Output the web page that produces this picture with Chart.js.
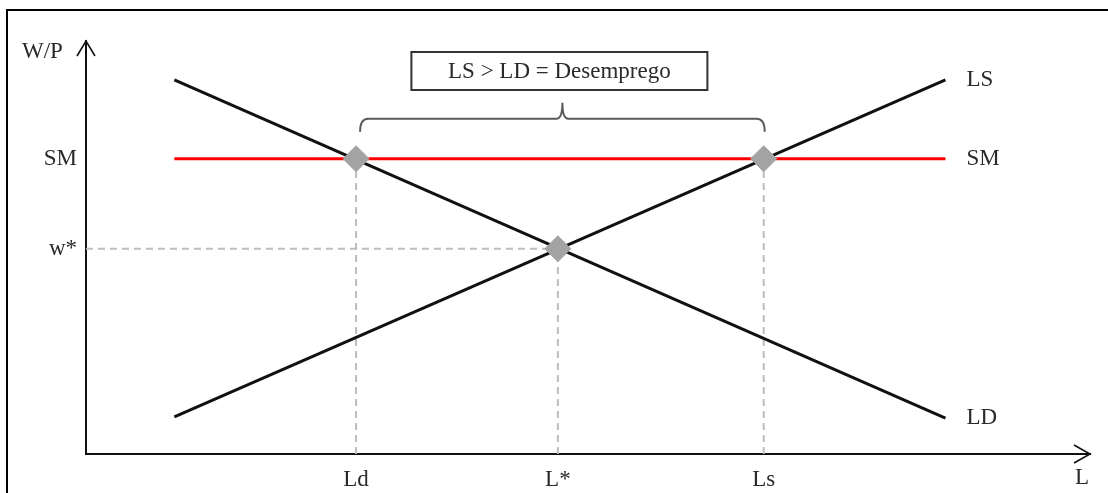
<!DOCTYPE html>
<html>
<head>
<meta charset="utf-8">
<script src="https://cdn.jsdelivr.net/npm/chart.js@4"></script>
<style>
  body { margin: 0; background: #fff; }
  canvas { display: block; }
</style>
</head>
<body>
<canvas id="mercado" width="1108" height="493"></canvas>
<script>
// labour market with a minimum wage (values in axis units, 0..10)
const xTickLabels = ['Ld', 'L*', 'Ls'];
const xTickValues = [2.69, 4.70, 6.75];
const yTickLabels = ['SM', 'w*'];
const yTickValues = [7.15, 4.97];

const ldX = [0.88, 8.56];
const ldY = [9.06, 0.87];
const lsX = [0.88, 8.56];
const lsY = [0.90, 9.06];
const smX = [0.88, 8.56];
const smY = [7.15, 7.15];

const seriesNames = ['LD', 'LS', 'SM'];
const boxText = 'LS > LD = Desemprego';

const serif = '"Liberation Serif", "DejaVu Serif", serif';
const ink = '#2a2a2a';
const fontSize = 23;

function pts(xs, ys) {
  return xs.map((x, i) => ({ x: x, y: ys[i] }));
}

const Ld = xTickValues[0], Lstar = xTickValues[1], Ls = xTickValues[2];
const SM = yTickValues[0], wstar = yTickValues[1];

const dashed = {
  borderColor: '#bdbdbd',
  borderWidth: 2,
  borderDash: [7, 5],
  pointRadius: 0,
  order: 5
};

// frame, axis arrows, curve names, brace and the note box
const extras = {
  id: 'extras',
  afterDraw(chart) {
    const ctx = chart.ctx;
    const a = chart.chartArea;
    const xs = chart.scales.x, ys = chart.scales.y;
    ctx.save();

    // outer frame (top and left edges)
    ctx.strokeStyle = '#000';
    ctx.lineWidth = 2;
    ctx.beginPath();
    ctx.moveTo(7, 493);
    ctx.lineTo(7, 10);
    ctx.lineTo(1108, 10);
    ctx.stroke();

    // arrowheads
    ctx.lineWidth = 1.6;
    ctx.strokeStyle = '#111';
    ctx.beginPath();
    ctx.moveTo(a.left - 9, a.top + 15);
    ctx.lineTo(a.left, a.top);
    ctx.lineTo(a.left + 9, a.top + 15);
    ctx.moveTo(a.right - 16, a.bottom - 9);
    ctx.lineTo(a.right, a.bottom);
    ctx.lineTo(a.right - 16, a.bottom + 9);
    ctx.stroke();

    ctx.fillStyle = ink;
    ctx.font = fontSize + 'px ' + serif;
    ctx.textBaseline = 'middle';
    ctx.textAlign = 'left';
    ctx.fillText('W/P', 22, 52);
    ctx.textAlign = 'center';
    ctx.fillText('L', a.right - 8, 478);

    // curve names next to their right ends
    ctx.textAlign = 'left';
    seriesNames.forEach(name => {
      const i = chart.data.datasets.findIndex(d => d.label === name);
      const meta = chart.getDatasetMeta(i);
      const p = meta.data[meta.data.length - 1];
      ctx.fillText(name, p.x + 21, p.y);
    });

    // brace spanning the gap between Ld and Ls
    const bl = xs.getPixelForValue(Ld) + 4;
    const br = xs.getPixelForValue(Ls) + 1;
    const bm = (bl + br) / 2;
    const by = ys.getPixelForValue(SM) - 40;
    ctx.strokeStyle = '#5a5a5a';
    ctx.lineWidth = 2;
    ctx.beginPath();
    ctx.moveTo(bl, by + 13);
    ctx.quadraticCurveTo(bl, by, bl + 8, by);
    ctx.lineTo(bm - 6, by);
    ctx.quadraticCurveTo(bm, by, bm, by - 16);
    ctx.quadraticCurveTo(bm, by, bm + 6, by);
    ctx.lineTo(br - 8, by);
    ctx.quadraticCurveTo(br, by, br, by + 13);
    ctx.stroke();

    // note box
    const bw = 296, bh = 38;
    const bx = bm - 3 - bw / 2, bTop = 52;
    ctx.fillStyle = '#fff';
    ctx.fillRect(bx, bTop, bw, bh);
    ctx.strokeStyle = '#333';
    ctx.lineWidth = 2;
    ctx.strokeRect(bx, bTop, bw, bh);
    ctx.fillStyle = ink;
    ctx.textAlign = 'center';
    ctx.fillText(boxText, bx + bw / 2, bTop + bh / 2 + 1);

    ctx.restore();
  }
};

new Chart(document.getElementById('mercado'), {
  type: 'line',
  data: {
    datasets: [
      {
        label: 'pontos',
        data: [{ x: Ld, y: SM }, { x: Lstar, y: wstar }, { x: Ls, y: SM }],
        showLine: false,
        pointStyle: 'rectRot',
        pointRadius: 13,
        pointBackgroundColor: '#a3a3a3',
        pointBorderColor: '#a3a3a3',
        order: 0
      },
      {
        label: 'LD',
        data: pts(ldX, ldY),
        borderColor: '#111',
        borderWidth: 3,
        pointRadius: 0,
        order: 2
      },
      {
        label: 'LS',
        data: pts(lsX, lsY),
        borderColor: '#111',
        borderWidth: 3,
        pointRadius: 0,
        order: 2
      },
      {
        label: 'SM',
        data: pts(smX, smY),
        borderColor: '#ff0000',
        borderWidth: 3,
        pointRadius: 0,
        order: 1
      },
      Object.assign({ label: 'guia Ld', data: [{ x: Ld, y: 0 }, { x: Ld, y: SM }] }, dashed),
      Object.assign({ label: 'guia L*', data: [{ x: Lstar, y: 0 }, { x: Lstar, y: wstar }] }, dashed),
      Object.assign({ label: 'guia Ls', data: [{ x: Ls, y: 0 }, { x: Ls, y: SM }] }, dashed),
      Object.assign({ label: 'guia w*', data: [{ x: 0, y: wstar }, { x: Lstar, y: wstar }] }, dashed)
    ]
  },
  options: {
    responsive: false,
    animation: false,
    layout: { padding: { left: 0, right: 18, top: 41, bottom: 0 } },
    plugins: {
      legend: { display: false },
      tooltip: { enabled: false }
    },
    scales: {
      x: {
        type: 'linear',
        min: 0,
        max: 10,
        grid: { display: false, drawTicks: false },
        border: { color: '#111', width: 2 },
        afterFit(scale) { scale.height = 39; },
        afterBuildTicks(scale) {
          scale.ticks = xTickValues.map(v => ({ value: v }));
        },
        ticks: {
          padding: 12,
          color: ink,
          font: { family: serif, size: fontSize },
          callback: (v) => xTickLabels[xTickValues.indexOf(v)]
        }
      },
      y: {
        type: 'linear',
        min: 0,
        max: 10,
        grid: { display: false, drawTicks: false },
        border: { color: '#111', width: 2 },
        afterFit(scale) { scale.width = 86; },
        afterBuildTicks(scale) {
          scale.ticks = yTickValues.map(v => ({ value: v }));
        },
        ticks: {
          padding: 9,
          color: ink,
          font: { family: serif, size: fontSize },
          callback: (v) => yTickLabels[yTickValues.indexOf(v)]
        }
      }
    }
  },
  plugins: [extras]
});
</script>
</body>
</html>
